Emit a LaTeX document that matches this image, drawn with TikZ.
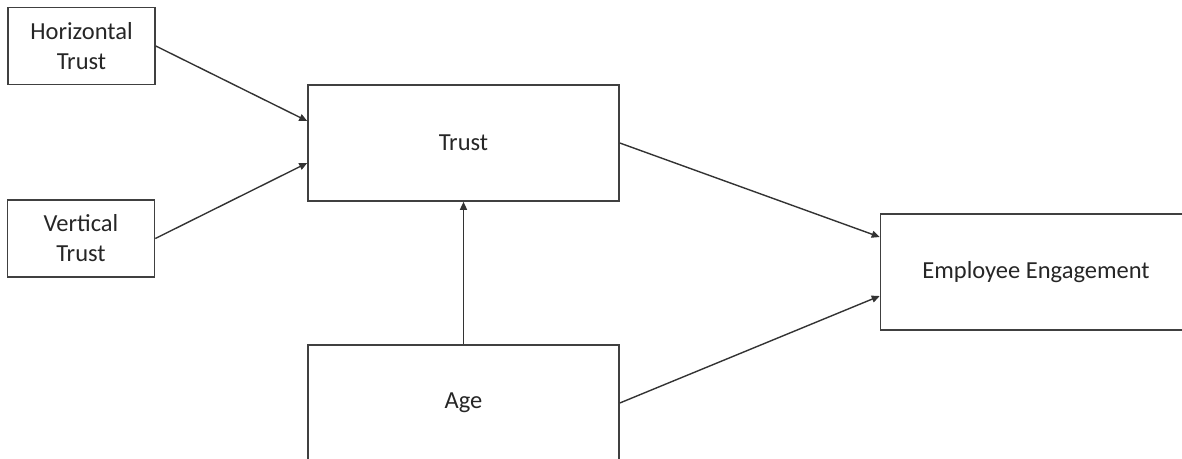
\documentclass[tikz,border=0pt]{standalone}
\usepackage{fontspec}
\setmainfont{Carlito}
\usetikzlibrary{positioning, arrows.meta}

\begin{document}
\begin{tikzpicture}[
    x=1pt, y=-1pt,
    factor/.style={
      draw=black!75, line width=1.6pt, fill=white, rectangle,
      inner sep=0pt, align=center, text=black!85,
      font=\fontsize{24.5}{30}\selectfont,
    },
    small/.style={factor, minimum width=147pt, minimum height=77pt},
    big/.style={factor, minimum width=311pt, minimum height=116pt},
    link/.style={-{Triangle[length=8pt, width=7pt]}, line width=1.4pt, black!80},
]
\useasboundingbox (0,0) rectangle (1182,458);

% Antecedents
\node[small] (HT) at (81.5, 46)  {Horizontal\\Trust};
\node[small] (VT) at (81, 238.5) {Vertical\\Trust};

% Mediator, moderator, outcome
\node[big] (T)  at (463.5, 143) {Trust};
\node[big] (A)  at (463.5, 403) {Age};
\node[big] (EE) at (1036, 272)  {Employee Engagement};

% Paths
\draw[link] (HT.east) -- ([yshift=22pt]T.west);
\draw[link] (VT.east) -- ([yshift=-20pt]T.west);
\draw[link] (A.north) -- (T.south);
\draw[link] (T.east) -- ([yshift=35pt]EE.west);
\draw[link] (A.east) -- ([yshift=-24pt]EE.west);
\end{tikzpicture}
\end{document}
